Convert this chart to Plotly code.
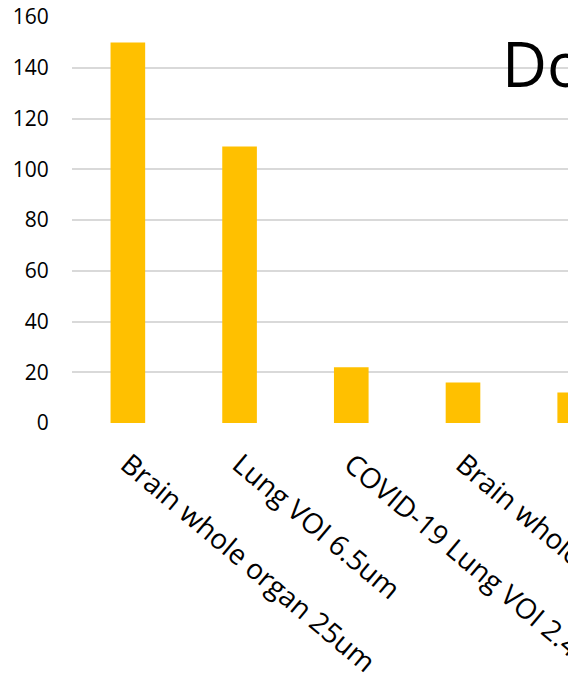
import plotly.graph_objects as go

categories = ["Brain whole organ 25um", "Lung VOI 6.5um", "COVID-19 Lung VOI 2.4um",
              "Brain whole organ 2.5um", "Brain whole organ VOI"]
values = [150, 109, 22, 16, 12]
y_ticks = [0, 20, 40, 60, 80, 100, 120, 140, 160]
title_text = "Downloads"

FONT = "Open Sans"
fig = go.Figure()
fig.add_trace(go.Bar(x=list(range(len(categories))), y=values, marker_color="#FFC000",
                     marker_line_width=0, width=0.31))

fig.update_layout(
    width=568, height=673,
    margin=dict(l=72, r=0, t=17, b=250, autoexpand=False),
    paper_bgcolor="white", plot_bgcolor="white",
    showlegend=False,
    font=dict(family=FONT, color="#000000"),
    xaxis=dict(tickmode="array", tickvals=list(range(len(categories))), ticktext=categories,
               range=[-0.5, 3.94], tickangle=40, tickfont=dict(size=28, family=FONT),
               ticklabeloverflow="allow", automargin=False,
               showgrid=False, zeroline=False, showline=False,
               ticks="outside", ticklen=13, tickcolor="rgba(0,0,0,0)"),
    yaxis=dict(range=[0, 160], tickvals=y_ticks, tickfont=dict(size=21, family=FONT),
               automargin=False,
               showgrid=True, gridcolor="#d9d9d9", gridwidth=1.5, zeroline=False,
               showline=False, ticks="outside", ticklen=18, tickcolor="rgba(0,0,0,0)"),
    annotations=[dict(text=title_text, xref="paper", yref="paper", x=(500 - 72) / 496,
                      y=(423 - 63) / 406, xanchor="left", yanchor="middle", showarrow=False,
                      font=dict(size=62, family=FONT, color="#000000"))],
)
fig.write_html("out.html")
